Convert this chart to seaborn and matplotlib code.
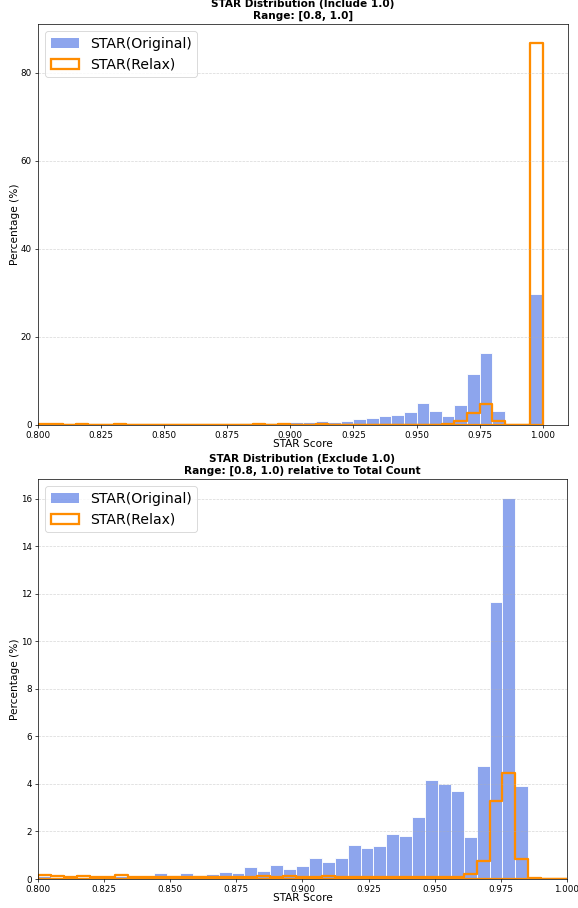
import numpy as np
import pandas as pd
import seaborn as sns
import matplotlib.pyplot as plt
from matplotlib.patches import Patch

# -------------------------------------
# DATA (percent of total count per bin)
# -------------------------------------
# top panel: 40 bins over [0.8, 1.0], last bin holds the 1.0 scores
top_bins = 40
top_original = [0.10, 0.07, 0.05, 0.07, 0.05, 0.06, 0.13, 0.12, 0.08,
                0.25, 0.20, 0.25, 0.20, 0.24, 0.30, 0.30, 0.35,
                0.38, 0.38, 0.35, 0.76, 0.57, 0.85, 0.68, 1.00, 1.44, 1.67, 1.97, 2.35,
                2.95, 4.90, 3.10, 2.10, 4.60, 11.50, 16.40, 3.25,
                0.0, 0.0, 29.8]
top_relax = [0.17, 0.11, 0.08, 0.12, 0.10, 0.10, 0.15, 0.09, 0.10,
             0.10, 0.09, 0.10, 0.09, 0.09, 0.09, 0.10, 0.08, 0.11, 0.10, 0.11, 0.10,
             0.10, 0.11, 0.10, 0.09, 0.10, 0.10, 0.09, 0.10, 0.10, 0.10, 0.10, 0.11,
             0.83, 2.65, 4.70, 1.00, 0.05, 0.03, 86.8]

# bottom panel: 41 bins over [0.8, 1.0), scores of 1.0 left out
bottom_bins = 41
bottom_original = [0.11, 0.07, 0.04, 0.07, 0.05, 0.04, 0.14, 0.13, 0.06,
                   0.27, 0.17, 0.27, 0.19,
                   0.21, 0.31, 0.25, 0.52, 0.35, 0.59, 0.42, 0.56, 0.87, 0.73, 0.87, 1.43, 1.29, 1.40,
                   1.91, 1.81, 2.63, 4.18, 4.01, 3.70, 1.78, 4.75, 11.66, 16.03, 3.91,
                   0.03, 0.0, 0.0]
bottom_relax = [0.17, 0.11, 0.07, 0.13, 0.10, 0.10, 0.17, 0.08, 0.10,
                0.10, 0.09, 0.10, 0.08, 0.09, 0.08, 0.10, 0.07, 0.12, 0.10, 0.11, 0.10,
                0.10, 0.11, 0.10, 0.09, 0.10, 0.10, 0.09, 0.10, 0.10, 0.09, 0.10, 0.10,
                0.21, 0.77, 3.30, 4.46, 0.84, 0.03, 0.01, 0.0]

blue = "royalblue"
orange = "darkorange"


def make_table(n_bins, orig, relax):
    edges = list(np.linspace(0.8, 1.0, n_bins + 1))
    centers = [(a + b) / 2 for a, b in zip(edges[:-1], edges[1:])]
    return edges, pd.DataFrame({"score": centers, "orig": orig, "relax": relax})


# -------------------------------------
# PLOT
# -------------------------------------
fig, axes = plt.subplots(2, 1, figsize=(578 / 63, 908 / 63), dpi=63)


def draw(ax, edges, df, title):
    sns.histplot(data=df, x="score", weights="orig", bins=edges, ax=ax,
                 color=blue, alpha=0.6, edgecolor="white", linewidth=1)
    sns.histplot(data=df, x="score", weights="relax", bins=edges, ax=ax,
                 element="step", fill=True, color=orange, facecolor="none",
                 edgecolor=orange, linewidth=2.6, alpha=1)
    ax.set_title(title, fontsize=12, fontweight="bold")
    ax.set_xlabel("STAR Score", fontsize=12, labelpad=-1.5)
    ax.set_ylabel("Percentage (%)", fontsize=12, labelpad=0.5)
    ax.grid(axis="y", linestyle="--", alpha=0.5)
    handles = [Patch(facecolor=blue, alpha=0.6, label="STAR(Original)"),
               Patch(facecolor="none", edgecolor=orange, linewidth=2.6, label="STAR(Relax)")]
    ax.legend(handles=handles, loc="upper left", fontsize=16)


edges_top, df_top = make_table(top_bins, top_original, top_relax)
draw(axes[0], edges_top, df_top, "STAR Distribution (Include 1.0)\nRange: [0.8, 1.0]")
axes[0].set_xlim(0.8, 1.01)

edges_bot, df_bot = make_table(bottom_bins, bottom_original, bottom_relax)
draw(axes[1], edges_bot, df_bot, "STAR Distribution (Exclude 1.0)\nRange: [0.8, 1.0) relative to Total Count")
axes[1].set_xlim(0.8, 1.0)

axes[0].set_position([0.0657, 0.532, 0.917, 0.4416])
axes[1].set_position([0.0657, 0.0319, 0.9152, 0.4406])

plt.savefig("out.png", dpi=63)
